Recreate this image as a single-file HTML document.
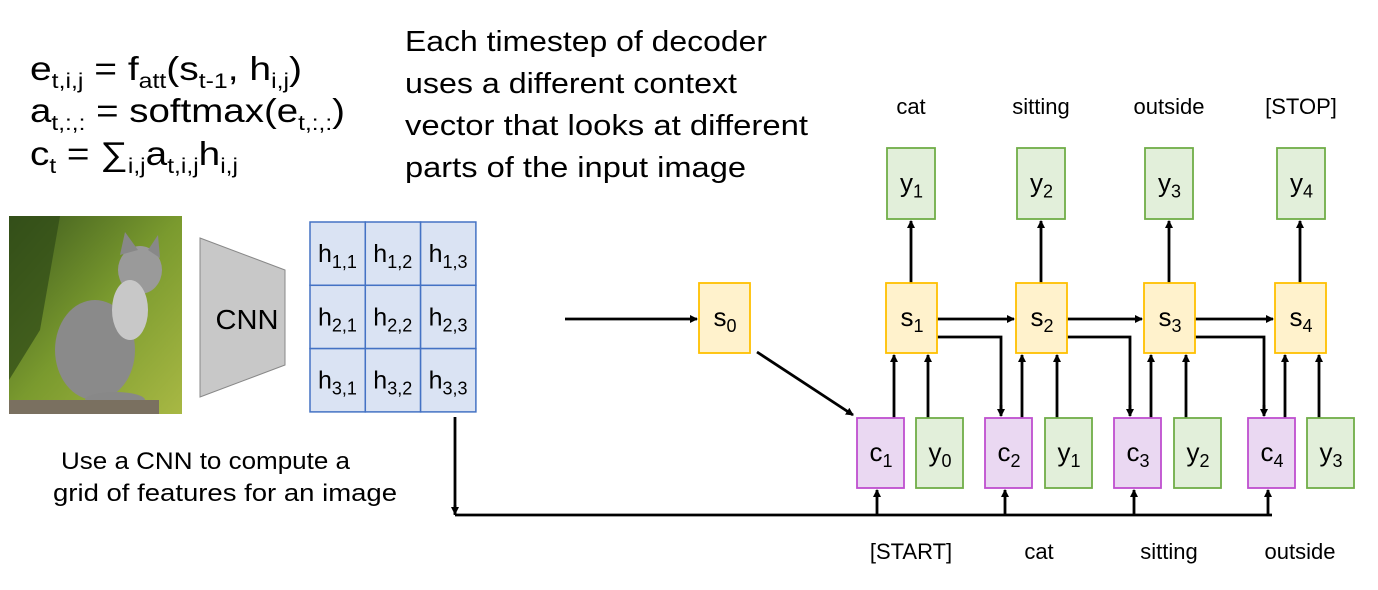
<!DOCTYPE html>
<html><head><meta charset="utf-8">
<style>
html,body{margin:0;padding:0;background:#fff;}
body{width:1378px;height:585px;overflow:hidden;position:relative;font-family:"Liberation Sans",sans-serif;}
svg text{font-family:"Liberation Sans",sans-serif;fill:#000;}
</style></head>
<body>
<svg width="1378" height="585" viewBox="0 0 1378 585">
<defs>
<marker id="ah" markerWidth="8" markerHeight="8" refX="7" refY="4" orient="auto" markerUnits="userSpaceOnUse">
<path d="M0,0 L8,4 L0,8 z" fill="#000"/></marker>
<linearGradient id="bg" x1="0" y1="0" x2="1" y2="1"><stop offset="0" stop-color="#3d5a1e"/><stop offset="0.5" stop-color="#7a9a2e"/><stop offset="1" stop-color="#a8b844"/></linearGradient>
</defs>

<g font-size="33">
<text x="30" y="80" textLength="272" lengthAdjust="spacingAndGlyphs">e<tspan font-size="21" dy="8">t,i,j</tspan><tspan dy="-8"> = f</tspan><tspan font-size="21" dy="8">att</tspan><tspan dy="-8">(s</tspan><tspan font-size="21" dy="8">t-1</tspan><tspan dy="-8">, h</tspan><tspan font-size="21" dy="8">i,j</tspan><tspan dy="-8">)</tspan></text>
<text x="30" y="122" textLength="315" lengthAdjust="spacingAndGlyphs">a<tspan font-size="21" dy="8">t,:,:</tspan><tspan dy="-8"> = softmax(e</tspan><tspan font-size="21" dy="8">t,:,:</tspan><tspan dy="-8">)</tspan></text>
<text x="30" y="165" textLength="208" lengthAdjust="spacingAndGlyphs">c<tspan font-size="21" dy="8">t</tspan><tspan dy="-8"> = ∑</tspan><tspan font-size="21" dy="8">i,j</tspan><tspan dy="-8">a</tspan><tspan font-size="21" dy="8">t,i,j</tspan><tspan dy="-8">h</tspan><tspan font-size="21" dy="8">i,j</tspan></text>
</g>
<g font-size="29">
<text x="405" y="51" textLength="362" lengthAdjust="spacingAndGlyphs">Each timestep of decoder</text>
<text x="405" y="93" textLength="332" lengthAdjust="spacingAndGlyphs">uses a different context</text>
<text x="405" y="135" textLength="403" lengthAdjust="spacingAndGlyphs">vector that looks at different</text>
<text x="405" y="177" textLength="341" lengthAdjust="spacingAndGlyphs">parts of the input image</text>
</g>

<g>
<rect x="9" y="216" width="173" height="198" fill="url(#bg)"/>
<path d="M9,216 L60,216 L40,330 L9,380z" fill="#2f4a17" opacity="0.7"/>
<ellipse cx="95" cy="350" rx="40" ry="50" fill="#8a8a8a"/>
<ellipse cx="140" cy="270" rx="22" ry="24" fill="#9a9a9a"/>
<path d="M120,255 L125,232 L138,250z M148,250 L158,235 L160,258z" fill="#888"/>
<ellipse cx="130" cy="310" rx="18" ry="30" fill="#c8c8c8"/>
<ellipse cx="115" cy="400" rx="30" ry="8" fill="#888"/>
<rect x="9" y="400" width="150" height="14" fill="#7a7060"/>
</g>

<g>
<polygon points="200,238 285,270 285,365 200,397" fill="#c8c8c8" stroke="#888" stroke-width="1"/>
<text x="247" y="329" font-size="28" text-anchor="middle" textLength="63" lengthAdjust="spacingAndGlyphs">CNN</text>
</g>

<g id="grid"></g>

<text x="61" y="469" font-size="24" textLength="289" lengthAdjust="spacingAndGlyphs">Use a CNN to compute a</text>
<text x="53" y="501" font-size="24" textLength="344" lengthAdjust="spacingAndGlyphs">grid of features for an image</text>

<g stroke="#000" stroke-width="2.8" fill="none" id="arrows">
<line x1="565" y1="319" x2="697" y2="319" marker-end="url(#ah)"/>
<line x1="757" y1="352" x2="853" y2="415" marker-end="url(#ah)"/>
<polyline points="455,417 455,515"/>
<line x1="455" y1="505" x2="455" y2="514" marker-end="url(#ah)"/>
<line x1="455" y1="515" x2="1272" y2="515"/>
</g>

<g id="boxes"></g>
<g id="labels" font-size="22"></g>
</svg>
<script>
var NS='http://www.w3.org/2000/svg';
function mk(tag,attrs,parent){var e=document.createElementNS(NS,tag);for(var k in attrs)e.setAttribute(k,attrs[k]);parent.appendChild(e);return e;}
var g=document.getElementById('grid');
for(var r=0;r<3;r++)for(var c=0;c<3;c++){
  var x=310+c*55.3,y=222+r*63.3;
  var rc=mk('rect',{x:x,y:y,width:55.3,height:63.3,fill:'#dae3f3',stroke:'#4472c4','stroke-width':1.5},g);
  
  
  var t=mk('text',{x:x+8,y:y+40,'font-size':25},g);
  t.innerHTML='h<tspan font-size="18" dy="6">'+(r+1)+','+(c+1)+'</tspan>';
}
var B=document.getElementById('boxes'),A=document.getElementById('arrows');
function box(x,y,w,h,fill,stroke,letter,sub,name){
  var rc=mk('rect',{x:x,y:y,width:w,height:h,fill:fill,stroke:stroke,'stroke-width':1.8},B);
  
  
  var t=mk('text',{x:x+w/2-11,y:y+h/2+8,'font-size':26},B);
  t.innerHTML=letter+'<tspan font-size="18" dy="6">'+sub+'</tspan>';
}
var G=['#e2efda','#70ad47'],Y=['#fff2cc','#ffc000'],P=['#ead8f2','#bf4fcf'];
box(699,283,51,70,Y[0],Y[1],'s','0','state-s0');
var yx=[887,1017,1145,1277],sx=[886,1016,1144,1275],cx=[857,985,1114,1248],ix=[916,1045,1174,1307];
var outs=['cat','sitting','outside','[STOP]'],ins=['[START]','cat','sitting','outside'];
var L=document.getElementById('labels');
function line(x1,y1,x2,y2,arrow){var l=mk('line',{x1:x1,y1:y1,x2:x2,y2:y2},A);if(arrow)l.setAttribute('marker-end','url(#ah)');}
for(var i=0;i<4;i++){
  box(yx[i],148,48,71,G[0],G[1],'y',i+1,'output-y'+(i+1));
  box(sx[i],283,51,70,Y[0],Y[1],'s',i+1,'state-s'+(i+1));
  box(cx[i],418,47,70,P[0],P[1],'c',i+1,'context-c'+(i+1));
  box(ix[i],418,47,70,G[0],G[1],'y',i,'input-y'+i);
  line(sx[i]+25,283,sx[i]+25,221,true);
  line(cx[i]+37,418,cx[i]+37,355,true);
  line(ix[i]+12,418,ix[i]+12,355,true);
  line(cx[i]+20,515,cx[i]+20,490,true);
  if(i<3){
    line(sx[i]+51,319,sx[i+1]-2,319,true);
    mk('polyline',{points:(sx[i]+51)+',337 '+(cx[i+1]+16)+',337 '+(cx[i+1]+16)+',410'},A);
    line(cx[i+1]+16,405,cx[i+1]+16,416,true);
  }
  var t1=mk('text',{x:yx[i]+24,y:114,'text-anchor':'middle'},L);t1.textContent=outs[i];
  
  
  var t2=mk('text',{x:[911,1039,1169,1300][i],y:559,'text-anchor':'middle'},L);t2.textContent=ins[i];
  
  
}
</script>
</body></html>
